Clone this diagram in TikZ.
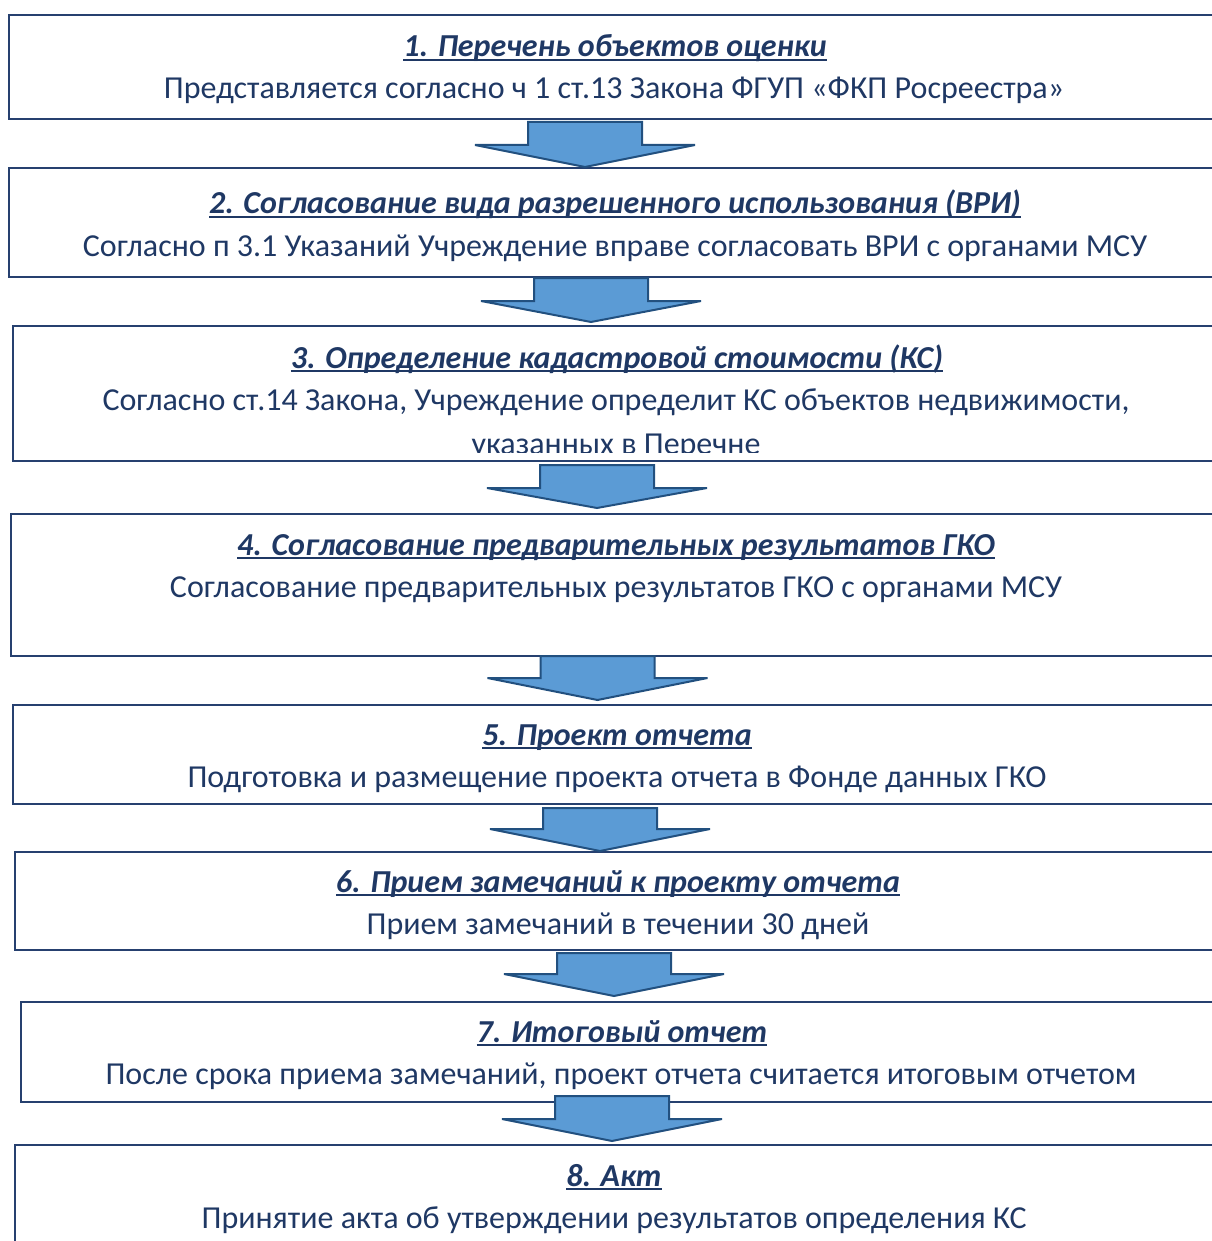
\documentclass[tikz,border=0pt]{standalone}
\usepackage{fontspec}
\setmainfont{Carlito}
\definecolor{boxline}{HTML}{26406F}
\definecolor{textblue}{HTML}{1F3864}
\definecolor{arrowfill}{HTML}{5B9BD5}
\definecolor{arrowline}{HTML}{22507F}
% underline at a fixed depth, as a word processor does
\newcommand\ulined[1]{\setbox0=\hbox{#1}\rlap{\rule[-0.12em]{\wd0}{0.065em}}\box0}
\begin{document}
\begin{tikzpicture}[x=1pt, y=-1pt,
    stagebox/.style={draw=boxline, line width=2pt, rectangle, inner sep=0pt, anchor=north west},
    stagetitle/.style={anchor=base, text=textblue, font=\fontsize{32}{38}\selectfont\bfseries\itshape},
    stagetext/.style={anchor=base, text=textblue, font=\fontsize{32}{38}\selectfont},
    flow/.style={fill=arrowfill, draw=arrowline, line width=2pt, line join=miter}]
    \useasboundingbox (0,0) rectangle (1211,1241);

    % Stage frames (they run on past the right edge)
    \foreach \n/\l/\t/\b in {1/8/14/118, 2/8/167/276, 3/12/325/460, 4/10/513/655,
                             5/12/704/803, 6/14/851/949, 7/20/1001/1101, 8/14/1144/1262} {
        \node[stagebox, minimum width={(1240-\l)*1pt}, minimum height={(\b-\t)*1pt}] (b\n) at (\l,\t) {};
    }

    % Block arrows between the stages
    \foreach \cx/\top/\mid/\tip in {585/122/145/167, 591/278/301/322, 597/465/488/508, 597.5/656/678/700,
                                    600/808/829/851, 614/953/974/996, 612/1096/1119/1141} {
        \draw[flow] (\cx-57,\top) -- (\cx+57,\top) -- (\cx+57,\mid) -- (\cx+110,\mid)
            -- (\cx,\tip) -- (\cx-110,\mid) -- (\cx-57,\mid) -- cycle;
    }

    % Stage titles
    \foreach \n/\x/\y/\txt in {1/615/57/{1. Перечень объектов оценки},
                               2/615/214/{2. Согласование вида разрешенного использования (ВРИ)},
                               3/617/368/{3. Определение кадастровой стоимости (КС)},
                               4/616/555/{4. Согласование предварительных результатов ГКО},
                               5/617/745/{5. Проект отчета},
                               6/618/892/{6. Прием замечаний к проекту отчета},
                               7/622/1042/{7. Итоговый отчет},
                               8/614/1186/{8. Акт}} {
        \node[stagetitle] (t\n) at (\x,\y) {\ulined{\txt}};
    }

    % Stage descriptions
    \foreach \n/\x/\y/\txt in {1/614/99/{Представляется согласно ч 1 ст.13 Закона ФГУП «ФКП Росреестра»},
                               2/615/256/{Согласно п 3.1 Указаний Учреждение вправе согласовать ВРИ с органами МСУ},
                               3/616/410/{Согласно ст.14 Закона, Учреждение определит КС объектов недвижимости,},
                               4/616/597/{Согласование предварительных результатов ГКО с органами МСУ},
                               5/617/787/{Подготовка и размещение проекта отчета в Фонде данных ГКО},
                               6/618/934/{Прием замечаний в течении 30 дней},
                               7/621/1084/{После срока приема замечаний, проект отчета считается итоговым отчетом},
                               8/614/1228/{Принятие акта об утверждении результатов определения КС}} {
        \node[stagetext] (d\n) at (\x,\y) {\txt};
    }

    % Overflowing line of stage 3, cut off by its frame
    \begin{scope}
        \clip (14,420) rectangle (1211,452);
        \node[stagetext] (d3b) at (616,454) {указанных в Перечне};
    \end{scope}
\end{tikzpicture}
\end{document}
